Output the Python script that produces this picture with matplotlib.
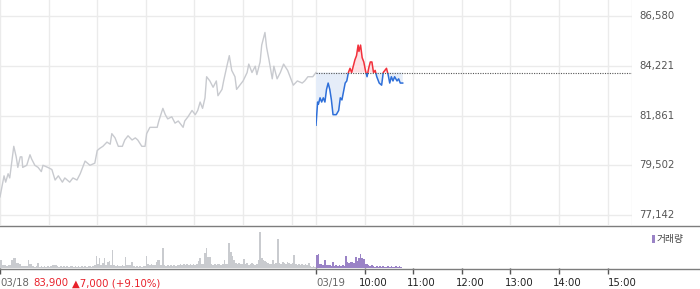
import matplotlib
matplotlib.use("Agg")
import matplotlib.pyplot as plt
from matplotlib.lines import Line2D
from matplotlib.patches import Rectangle
import numpy as np

# ---------------- data ----------------
day1_times = ["09:00","09:05","09:07","09:10","09:12","09:17","09:20","09:22","09:25","09:27",
              "09:28","09:33","09:37","09:39","09:43","09:47","09:51","09:53","09:59","10:04",
              "10:08","10:12","10:17","10:20","10:26","10:30","10:35","10:39","10:45","10:51",
              "10:57","11:00","11:03","11:07","11:12","11:16","11:18","11:22","11:26","11:31",
              "11:34","11:38","11:43","11:47","11:50","11:55","11:59","12:01","12:05","12:10",
              "12:14","12:16","12:21","12:24","12:27","12:32","12:36","12:40","12:46","12:48",
              "12:52","12:57","13:01","13:04","13:07","13:10","13:13","13:15","13:19","13:23",
              "13:27","13:29","13:34","13:36","13:40","13:43","13:46","13:50","13:52","13:56",
              "14:00","14:05","14:07","14:11","14:15","14:17","14:21","14:23","14:25","14:27",
              "14:29","14:32","14:36","14:38","14:42","14:46","14:50","14:55","15:02","15:07",
              "15:13","15:16","15:20","15:26","15:30"]
day1_prices = [78000,79000,78700,79100,78900,80400,79900,79400,79900,79900,
               79400,79500,80000,79800,79500,79400,79200,79500,79400,79300,
               78800,79000,78700,78900,78700,78900,78800,79100,79700,79500,
               79600,80200,80300,80400,80600,80500,81000,80800,80400,80400,
               80700,80900,80700,80800,80700,80400,80400,81000,81300,81300,
               81300,81600,82200,81900,81700,81800,81500,81600,81300,81600,
               81800,82100,81900,82100,82500,82200,82700,83700,83500,83200,
               83500,82800,83100,83500,84200,84700,84000,83700,83100,83300,
               83500,83900,84300,83900,84200,83800,84400,85200,85500,85800,
               85100,84500,83600,84200,83600,83900,84300,84000,83300,83500,
               83400,83500,83700,83700,83900]

day2_times = ["09:00","09:02","09:03","09:05","09:07","09:09","09:11","09:13","09:15","09:17",
              "09:19","09:21","09:25","09:28","09:30","09:32","09:34","09:36","09:38","09:40",
              "09:42","09:44","09:46","09:48","09:50","09:52","09:53","09:55","09:57","09:59",
              "10:01","10:03","10:05","10:07","10:09","10:11","10:13","10:15","10:18","10:21",
              "10:23","10:25","10:27","10:29","10:31","10:33","10:35","10:37","10:40","10:42",
              "10:44","10:47"]
day2_prices = [81400,82500,82400,82700,82500,82700,82500,83100,83400,83100,
               82600,81900,81900,82100,82700,82600,83000,83400,83500,83900,
               84100,83900,84200,84500,84700,85200,84900,85200,84600,84400,
               84000,83700,84100,84400,84400,83900,84000,83700,83400,83300,
               83900,84000,84100,83800,83400,83700,83500,83700,83500,83600,
               83400,83400]

prev_close = 83900

# volume, 2-minute bins from 09:00 (relative units)
day1_volume = [8,3,3,3,2,3,3,8,10,10,
               5,5,4,2,2,2,2,8,4,4,
               2,1,2,5,1,2,1,2,1,2,
               1,2,3,3,3,2,1,2,1,2,
               1,2,1,2,2,1,2,1,2,1,
               2,1,2,1,2,2,1,2,3,12,
               4,10,3,5,10,3,6,7,3,18,
               3,2,3,2,2,3,2,11,3,3,
               3,6,2,1,2,1,2,1,2,2,
               12,4,3,4,3,3,6,8,8,3,
               20,3,2,3,2,3,2,3,2,3,
               3,4,3,4,3,4,3,4,3,4,
               3,4,7,10,4,4,15,20,11,11,
               4,3,4,3,4,4,3,4,8,4,
               4,25,16,12,8,5,4,5,4,4,
               9,4,5,3,4,5,4,3,4,8,
               36,10,8,7,6,5,4,4,8,4,
               5,29,5,4,6,5,4,6,5,4,
               5,13,4,3,4,3,4,3,4,3,
               5,2,1,2,1]
day2_volume = [13,14,4,4,3,8,3,3,3,2,
               6,2,3,2,3,2,3,2,12,6,
               5,6,6,5,11,7,10,14,10,9,
               4,4,3,2,3,2,1,2,1,2,
               1,2,1,1,2,1,2,1,1,2,
               1,2,1]

y_ticks = [77142, 79502, 81861, 84221, 86580]
y_tick_labels = ["77,142", "79,502", "81,861", "84,221", "86,580"]
time_labels = ["10:00", "11:00", "12:00", "13:00", "14:00", "15:00"]
date1, date2 = "03/18", "03/19"
close_text, change_text = "83,900", "\u25B27,000 (+9.10%)"
vol_legend = "거래량"

# ---------------- helpers ----------------
def to_min(s, day):
    h, m = s.split(":")
    return (int(h) - 9) * 60 + int(m) + day * 390

t1 = np.array([to_min(s, 0) for s in day1_times])
p1 = np.array(day1_prices, dtype=float)
t2 = np.array([to_min(s, 1) for s in day2_times])
p2 = np.array(day2_prices, dtype=float)

W, H = 700, 289
fig = plt.figure(figsize=(W / 100, H / 100), dpi=100)
fig.patch.set_facecolor("white")

def fx(px):
    return px / W

def fy(py):
    return 1 - py / H

ax = fig.add_axes([0, fy(225), fx(632), 225 / H])
axv = fig.add_axes([0, fy(268), fx(632), (268 - 226) / H])

XMAX = 780
YMIN, YMAX = 76668, 87339

grid_c = "#ebebeb"
for a in (ax, axv):
    for s in a.spines.values():
        s.set_visible(False)
    a.set_xlim(0, XMAX)

# price panel
ax.set_ylim(YMIN, YMAX)
ax.set_xticks([])
ax.set_yticks([])
for v in y_ticks:
    ax.axhline(v, color=grid_c, lw=1, zorder=0)
vgrid = [0, 60, 120, 180, 240, 300, 360, 390, 450, 510, 570, 630, 690, 750, 780]
for v in vgrid:
    ax.axvline(v, color=grid_c, lw=1, zorder=0)

ax.plot(t1, p1, color="#c8cacf", lw=1.0, zorder=2)

red_c, blue_c = "#f2303b", "#2e6fd9"
ax.fill_between(t2, p2, prev_close, where=p2 >= prev_close, interpolate=True,
                color="#fde1e4", lw=0, zorder=1)
ax.fill_between(t2, p2, prev_close, where=p2 <= prev_close, interpolate=True,
                color="#e5edf9", lw=0, zorder=1)
lr, = ax.plot(t2, p2, color=red_c, lw=1.1, zorder=3)
lb, = ax.plot(t2, p2, color=blue_c, lw=1.1, zorder=3)
rect_up = Rectangle((390, prev_close), 390, YMAX - prev_close, transform=ax.transData)
rect_dn = Rectangle((390, YMIN), 390, prev_close - YMIN, transform=ax.transData)
lr.set_clip_path(rect_up)
lb.set_clip_path(rect_dn)

ax.plot([390, 780], [prev_close, prev_close], color="#555555", lw=0.8,
        linestyle=(0, (1, 1.2)), zorder=4)

for v, lab in zip(y_ticks, y_tick_labels):
    ax.text(639 / 632, v, lab, transform=ax.get_yaxis_transform(), ha="left",
            va="center", fontsize=7.3, color="#555555", clip_on=False)

# volume panel
axv.set_ylim(0, 42)
axv.set_yticks([])
b1 = np.arange(len(day1_volume)) * 2
b2 = 390 + np.arange(len(day2_volume)) * 2
axv.bar(b1, day1_volume, width=2, align="edge", color="#c9cbcf", lw=0)
axv.bar(b2, day2_volume, width=2, align="edge", color="#9a83c6", lw=0)
axv.set_xticks([0, 390, 450, 510, 570, 630, 690, 750])
axv.tick_params(axis="x", direction="out", length=4, width=1, color="#555555",
                labelbottom=False)

# separator lines
fig.add_artist(Line2D([0, 1], [fy(225.5), fy(225.5)], transform=fig.transFigure,
                      color="#7d7d7d", lw=1))
fig.add_artist(Line2D([0, 1], [fy(268.5), fy(268.5)], transform=fig.transFigure,
                      color="#7d7d7d", lw=1))

# legend
fig.add_artist(Rectangle((fx(652), fy(243)), 2.5 / W, 8 / H, transform=fig.transFigure,
                         color="#9a83c6", lw=0))
fig.text(fx(656.5), fy(239), vol_legend, fontsize=7, color="#444444",
         family=["Noto Sans CJK KR", "DejaVu Sans"], ha="left", va="center")

# bottom labels
ty = fy(283)
fs = 7.3
fig.text(fx(0), ty, date1, fontsize=fs, color="#666666", ha="left", va="center")
fig.text(fx(33), ty, close_text, fontsize=fs, color="#e8202a", ha="left", va="center")
fig.text(fx(72), ty, change_text, fontsize=fs, color="#e8202a", ha="left", va="center")
fig.text(fx(316), ty, date2, fontsize=fs, color="#666666", ha="left", va="center")
px_per_min = 632 / XMAX
for i, lab in enumerate(time_labels):
    tick_px = (450 + 60 * i) * px_per_min
    off = -6 if i < len(time_labels) - 1 else 0
    fig.text(fx(tick_px + off), ty, lab, fontsize=fs, color="#222222",
             ha="left", va="center")

fig.savefig("out.png", dpi=100, facecolor="white")
